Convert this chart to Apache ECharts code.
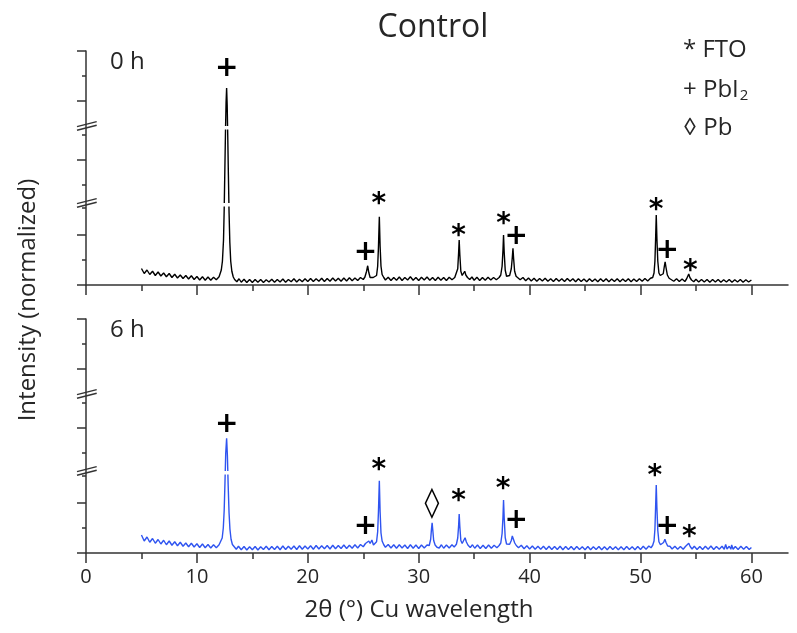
<!DOCTYPE html>
<html><head><meta charset="utf-8">
<script src="https://cdn.jsdelivr.net/npm/echarts@6/dist/echarts.min.js"></script>
<style>html,body{margin:0;padding:0;background:#fff}#c{width:797px;height:633px}</style>
</head><body><div id="c"></div>
<script>
// ---- data (intensity in normalized display units; the y axis is broken at two levels) ----
const xTicksMajor = [0, 10, 20, 30, 40, 50, 60];
const xTicksMinor = [5, 15, 25, 35, 45, 55];
const yTicksMajor = [0, 2, 5, 7.36, 9.36];
const yTicksMinor = [1, 3.08, 4, 6, 8.36];
const breakLevels = [[3.14, 3.28, 3.28], [6.22, 6.36, 6.36]];
const panelNames = ['0 h', '6 h'];
const titleText = 'Control';
const xAxisTitle = '2θ (°) Cu wavelength';
const yAxisTitle = 'Intensity (normalized)';

const scan0h = [
[5.00,0.66],[5.25,0.46],[5.50,0.60],[5.75,0.42],[6.00,0.55],[6.25,0.38],[6.50,0.52],[6.75,0.36],[7.00,0.48],[7.25,0.33],
[7.50,0.46],[7.75,0.30],[8.00,0.43],[8.25,0.28],[8.50,0.40],[8.75,0.26],[9.00,0.38],[9.25,0.24],[9.50,0.37],[9.75,0.22],
[10.00,0.34],[10.25,0.20],[10.50,0.33],[10.75,0.19],[11.00,0.32],[11.25,0.19],[11.50,0.31],[11.75,0.21],[12.00,0.33],
[12.10,0.38],[12.20,0.60],[12.30,0.95],[12.40,1.80],[12.46,3.00],[12.52,4.60],[12.58,6.20],[12.63,7.30],[12.68,7.88],
[12.73,7.20],[12.78,6.00],[12.84,4.40],[12.90,2.90],[12.97,1.70],[13.05,0.95],[13.15,0.55],[13.28,0.32],[13.40,0.22],
[13.60,0.13],[13.80,0.25],[14.00,0.11],[14.25,0.23],[14.50,0.10],[14.75,0.22],[15.00,0.10],[15.25,0.22],[15.50,0.11],
[15.75,0.22],[16.00,0.10],[16.25,0.21],[16.50,0.12],[16.75,0.23],[17.00,0.11],[17.25,0.22],[17.50,0.12],[17.75,0.24],
[18.00,0.11],[18.25,0.22],[18.50,0.13],[18.75,0.25],[19.00,0.12],[19.25,0.23],[19.50,0.13],[19.75,0.25],[20.00,0.14],
[20.25,0.26],[20.50,0.14],[20.75,0.25],[21.00,0.15],[21.25,0.27],[21.50,0.14],[21.75,0.26],[22.00,0.15],[22.25,0.28],
[22.50,0.16],[22.75,0.27],[23.00,0.15],[23.25,0.28],[23.50,0.16],[23.75,0.29],[24.00,0.17],[24.25,0.28],[24.50,0.18],
[24.75,0.30],[25.00,0.22],[25.15,0.32],[25.30,0.55],[25.40,0.77],[25.50,0.50],[25.62,0.30],[25.75,0.22],[25.90,0.30],
[26.05,0.24],[26.20,0.38],[26.30,0.75],[26.37,1.50],[26.45,2.73],[26.52,1.55],[26.60,0.75],[26.70,0.42],[26.85,0.30],
[27.00,0.20],[27.25,0.31],[27.50,0.18],[27.75,0.30],[28.00,0.19],[28.25,0.32],[28.50,0.18],[28.75,0.30],[29.00,0.20],
[29.25,0.33],[29.50,0.19],[29.75,0.30],[30.00,0.18],[30.25,0.31],[30.50,0.20],[30.75,0.32],[31.00,0.19],[31.25,0.30],
[31.50,0.18],[31.75,0.31],[32.00,0.19],[32.25,0.30],[32.50,0.18],[32.75,0.31],[33.00,0.21],[33.25,0.30],[33.40,0.34],
[33.52,0.65],[33.60,1.30],[33.65,1.80],[33.71,1.20],[33.80,0.55],[33.92,0.38],[34.05,0.42],[34.15,0.55],[34.25,0.40],
[34.40,0.30],[34.60,0.22],[34.80,0.32],[35.00,0.19],[35.25,0.31],[35.50,0.18],[35.75,0.30],[36.00,0.19],[36.25,0.31],
[36.50,0.20],[36.75,0.30],[37.00,0.21],[37.25,0.30],[37.40,0.40],[37.52,0.75],[37.60,1.40],[37.65,2.00],[37.71,1.30],
[37.80,0.60],[37.92,0.35],[38.05,0.30],[38.20,0.38],[38.35,0.65],[38.44,1.10],[38.50,1.47],[38.56,1.05],[38.65,0.55],
[38.78,0.35],[38.95,0.28],[39.15,0.21],[39.40,0.30],[39.65,0.17],[39.90,0.28],[40.15,0.16],[40.40,0.27],[40.65,0.15],
[40.90,0.26],[41.15,0.16],[41.40,0.27],[41.65,0.15],[41.90,0.25],[42.15,0.14],[42.40,0.26],[42.65,0.15],[42.90,0.25],
[43.15,0.14],[43.40,0.26],[43.65,0.15],[43.90,0.25],[44.15,0.13],[44.40,0.25],[44.65,0.14],[44.90,0.24],[45.15,0.13],
[45.40,0.25],[45.65,0.14],[45.90,0.24],[46.15,0.13],[46.40,0.25],[46.65,0.14],[46.90,0.25],[47.15,0.13],[47.40,0.24],
[47.65,0.14],[47.90,0.25],[48.15,0.13],[48.40,0.24],[48.65,0.14],[48.90,0.25],[49.15,0.13],[49.40,0.24],[49.65,0.14],
[49.90,0.25],[50.15,0.15],[50.40,0.26],[50.65,0.16],[50.90,0.27],[51.10,0.30],[51.22,0.48],[51.30,0.95],[51.36,1.80],
[51.42,2.80],[51.48,1.85],[51.56,0.95],[51.66,0.48],[51.78,0.38],[51.92,0.33],[52.05,0.45],[52.15,0.75],[52.22,0.93],
[52.30,0.70],[52.42,0.40],[52.58,0.27],[52.75,0.19],[53.00,0.15],[53.25,0.25],[53.50,0.14],[53.75,0.24],[54.00,0.14],
[54.15,0.24],[54.28,0.32],[54.35,0.44],[54.45,0.30],[54.60,0.20],[54.80,0.13],[55.00,0.23],[55.25,0.12],[55.50,0.22],
[55.75,0.12],[56.00,0.22],[56.25,0.11],[56.50,0.22],[56.75,0.12],[57.00,0.22],[57.25,0.11],[57.50,0.21],[57.75,0.12],
[58.00,0.22],[58.25,0.11],[58.50,0.21],[58.75,0.12],[59.00,0.22],[59.25,0.11],[59.50,0.21],[59.75,0.12],[60.00,0.20]
];

const scan6h = [
[5.00,0.72],[5.25,0.48],[5.50,0.64],[5.75,0.43],[6.00,0.58],[6.25,0.39],[6.50,0.54],[6.75,0.36],[7.00,0.51],[7.25,0.33],
[7.50,0.48],[7.75,0.31],[8.00,0.45],[8.25,0.29],[8.50,0.43],[8.75,0.27],[9.00,0.40],[9.25,0.25],[9.50,0.39],[9.75,0.24],
[10.00,0.37],[10.25,0.22],[10.50,0.36],[10.75,0.21],[11.00,0.34],[11.25,0.20],[11.50,0.33],[11.75,0.21],[12.00,0.33],
[12.15,0.38],[12.28,0.60],[12.38,1.00],[12.46,1.70],[12.53,2.80],[12.60,4.00],[12.68,4.59],[12.75,3.90],[12.82,2.70],
[12.90,1.60],[12.98,0.95],[13.08,0.55],[13.20,0.34],[13.35,0.26],[13.55,0.15],[13.75,0.27],[14.00,0.13],[14.25,0.26],
[14.50,0.12],[14.75,0.25],[15.00,0.13],[15.25,0.26],[15.50,0.12],[15.75,0.25],[16.00,0.14],[16.25,0.27],[16.50,0.13],
[16.75,0.26],[17.00,0.14],[17.25,0.27],[17.50,0.13],[17.75,0.28],[18.00,0.14],[18.25,0.27],[18.50,0.15],[18.75,0.28],
[19.00,0.14],[19.25,0.29],[19.50,0.15],[19.75,0.28],[20.00,0.16],[20.25,0.29],[20.50,0.15],[20.75,0.30],[21.00,0.16],
[21.25,0.29],[21.50,0.17],[21.75,0.30],[22.00,0.16],[22.25,0.31],[22.50,0.17],[22.75,0.30],[23.00,0.18],[23.25,0.32],
[23.50,0.18],[23.75,0.31],[24.00,0.19],[24.25,0.33],[24.50,0.20],[24.75,0.34],[25.00,0.25],[25.20,0.38],[25.35,0.30],
[25.50,0.48],[25.62,0.38],[25.78,0.52],[25.92,0.32],[26.08,0.38],[26.20,0.45],[26.30,0.85],[26.37,1.65],[26.45,2.89],
[26.52,1.65],[26.60,0.80],[26.70,0.48],[26.85,0.33],[27.00,0.23],[27.25,0.34],[27.50,0.20],[27.75,0.33],[28.00,0.19],
[28.25,0.33],[28.50,0.20],[28.75,0.32],[29.00,0.18],[29.25,0.33],[29.50,0.19],[29.75,0.32],[30.00,0.18],[30.25,0.32],
[30.50,0.20],[30.75,0.32],[30.95,0.30],[31.08,0.55],[31.15,0.95],[31.21,1.21],[31.27,0.92],[31.35,0.50],[31.48,0.32],
[31.65,0.23],[31.85,0.20],[32.05,0.33],[32.25,0.19],[32.50,0.32],[32.75,0.20],[33.00,0.33],[33.20,0.24],[33.40,0.35],
[33.52,0.60],[33.60,1.10],[33.65,1.56],[33.71,1.05],[33.80,0.50],[33.92,0.38],[34.05,0.44],[34.18,0.61],[34.30,0.44],
[34.45,0.31],[34.65,0.22],[34.85,0.33],[35.05,0.19],[35.30,0.32],[35.55,0.18],[35.80,0.31],[36.05,0.18],[36.30,0.32],
[36.55,0.19],[36.80,0.31],[37.05,0.21],[37.25,0.30],[37.40,0.40],[37.52,0.78],[37.60,1.45],[37.65,2.12],[37.71,1.40],
[37.80,0.62],[37.92,0.36],[38.05,0.30],[38.20,0.35],[38.35,0.50],[38.44,0.68],[38.50,0.76],[38.57,0.60],[38.66,0.40],
[38.80,0.30],[39.00,0.21],[39.25,0.31],[39.50,0.17],[39.75,0.29],[40.00,0.16],[40.25,0.28],[40.50,0.15],[40.75,0.27],
[41.00,0.15],[41.25,0.27],[41.50,0.14],[41.75,0.27],[42.00,0.14],[42.25,0.26],[42.50,0.14],[42.75,0.27],[43.00,0.13],
[43.25,0.26],[43.50,0.14],[43.75,0.26],[44.00,0.13],[44.25,0.26],[44.50,0.14],[44.75,0.25],[45.00,0.13],[45.25,0.26],
[45.50,0.13],[45.75,0.25],[46.00,0.14],[46.25,0.26],[46.50,0.13],[46.75,0.25],[47.00,0.13],[47.25,0.26],[47.50,0.14],
[47.75,0.25],[48.00,0.13],[48.25,0.25],[48.50,0.13],[48.75,0.26],[49.00,0.14],[49.25,0.25],[49.50,0.13],[49.75,0.26],
[50.00,0.14],[50.25,0.27],[50.50,0.15],[50.75,0.28],[50.95,0.21],[51.10,0.31],[51.22,0.48],[51.30,0.95],[51.36,1.80],
[51.42,2.72],[51.48,1.80],[51.56,0.90],[51.66,0.45],[51.80,0.33],[51.95,0.30],[52.08,0.42],[52.20,0.55],[52.30,0.42],
[52.45,0.28],[52.65,0.27],[52.85,0.16],[53.10,0.27],[53.35,0.15],[53.60,0.26],[53.85,0.15],[54.05,0.26],[54.20,0.24],
[54.35,0.39],[54.48,0.26],[54.65,0.16],[54.85,0.27],[55.10,0.14],[55.35,0.26],[55.60,0.14],[55.85,0.27],[56.10,0.15],
[56.35,0.28],[56.60,0.14],[56.85,0.26],[57.10,0.15],[57.35,0.27],[57.55,0.15],[57.68,0.34],[57.80,0.16],[58.00,0.27],
[58.15,0.15],[58.22,0.32],[58.35,0.15],[58.55,0.26],[58.80,0.14],[59.05,0.27],[59.30,0.15],[59.55,0.26],[59.80,0.14],
[60.00,0.22]
];

// phase markers: [2θ, height (display units), glyph]
const marks0h = [[12.7,8.68,'+'],[25.2,1.33,'+'],[26.4,3.48,'*'],[33.6,2.2,'*'],[37.65,2.69,'*'],[38.8,1.97,'+'],[51.4,3.27,'*'],[52.4,1.4,'+'],[54.5,0.8,'*']];
const marks6h = [[12.7,5.19,'+'],[25.2,1.08,'+'],[26.4,3.59,'*'],[31.2,1.99,'◊'],[33.6,2.32,'*'],[37.6,2.83,'*'],[38.8,1.35,'+'],[51.3,3.35,'*'],[52.4,1.08,'+'],[54.4,0.89,'*']];
const legendSymbols = ['*', '+', '◊'];
const legendNames = ['FTO', 'PbI', 'Pb'];
const legendSubs = ['', '2', ''];

// ---- chart ----
const TXT = '#262626';
const AX = '#333';
const FONT = '"Open Sans", "DejaVu Sans", sans-serif';
const X_MAX = 63.3, Y_MAX = 9.36;
const panelTops = [51, 319];
const lineColors = ['#000000', '#2f54f0'];

const grid = panelTops.map(t => ({ left: 86, top: t, width: 702, height: 234 }));
const xAxis = [], yAxis = [];
panelTops.forEach((t, i) => {
  xAxis.push({ gridIndex: i, type: 'value', min: 0, max: X_MAX, position: 'bottom',
    axisLine: { show: true, onZero: false, lineStyle: { color: AX, width: 1.5 } },
    axisTick: { show: true, length: 10, customValues: xTicksMajor, lineStyle: { color: AX, width: 1.5 } },
    axisLabel: { show: i === 1, customValues: xTicksMajor, color: TXT, fontSize: 20, fontFamily: FONT, margin: 14 },
    splitLine: { show: false } });
  xAxis.push({ gridIndex: i, type: 'value', min: 0, max: X_MAX, position: 'bottom',
    axisLine: { show: false },
    axisTick: { show: true, length: 6, customValues: xTicksMinor, lineStyle: { color: AX, width: 1.5 } },
    axisLabel: { show: false }, splitLine: { show: false } });
  yAxis.push({ gridIndex: i, type: 'value', min: 0, max: Y_MAX, position: 'left',
    axisLine: { show: true, onZero: false, lineStyle: { color: AX, width: 1.5 } },
    axisTick: { show: true, length: 9, customValues: yTicksMajor, lineStyle: { color: AX, width: 1.5 } },
    axisLabel: { show: false }, splitLine: { show: false } });
  yAxis.push({ gridIndex: i, type: 'value', min: 0, max: Y_MAX, position: 'left',
    axisLine: { show: false },
    axisTick: { show: true, length: 4, customValues: yTicksMinor, lineStyle: { color: AX, width: 1.5 } },
    axisLabel: { show: false }, splitLine: { show: false } });
});

function breakRender(params, api) {
  const lo = api.value(0), hi = api.value(1), c = api.value(2);
  const a = api.coord([0.15, hi]);
  const b = api.coord([X_MAX, lo]);
  const o = api.coord([0, c]);
  const ls = { stroke: AX, lineWidth: 1.4 };
  return { type: 'group', children: [
    { type: 'rect', shape: { x: a[0], y: a[1], width: b[0] - a[0], height: b[1] - a[1] }, style: { fill: '#fff' } },
    { type: 'line', shape: { x1: o[0] - 9, y1: o[1] + 0.6, x2: o[0] + 10.7, y2: o[1] - 4.4 }, style: ls },
    { type: 'line', shape: { x1: o[0] - 9, y1: o[1] + 4.3, x2: o[0] + 10.7, y2: o[1] - 0.7 }, style: ls }
  ]};
}
function markRender(list) {
  return function (params, api) {
    const g = list[params.dataIndex][2];
    const p = api.coord([api.value(0), api.value(1)]);
    const dy = g === '*' ? 7 : 1;
    const fs = g === '◊' ? 30 : 28;
    return { type: 'text', x: p[0], y: p[1] + dy, style: {
      text: g, font: 'bold ' + fs + 'px "DejaVu Sans"', fill: '#000',
      align: 'center', verticalAlign: 'middle', textAlign: 'center', textVerticalAlign: 'middle' } };
  };
}

const scans = [scan0h, scan6h];
const marks = [marks0h, marks6h];
const series = [];
scans.forEach((d, i) => {
  series.push({ type: 'line', xAxisIndex: 2 * i, yAxisIndex: 2 * i, data: d, showSymbol: false,
    lineStyle: { color: lineColors[i], width: 1.4 }, z: 2, animation: false });
  series.push({ type: 'custom', xAxisIndex: 2 * i, yAxisIndex: 2 * i, data: breakLevels,
    renderItem: breakRender, z: 5, clip: false, silent: true, animation: false });
  series.push({ type: 'custom', xAxisIndex: 2 * i, yAxisIndex: 2 * i,
    data: marks[i].map(m => [m[0], m[1]]), renderItem: markRender(marks[i]), z: 6, clip: false, silent: true, animation: false });
});

const centered = { align: 'center', verticalAlign: 'middle', textAlign: 'center', textVerticalAlign: 'middle' };
const graphic = [
  { type: 'text', z: 100, x: 433, y: 28, style: Object.assign({ text: titleText, font: '32px ' + FONT, fill: TXT }, centered) },
  { type: 'text', z: 100, x: 419, y: 610, style: Object.assign({ text: xAxisTitle, font: '24px ' + FONT, fill: TXT }, centered) },
  { type: 'text', z: 100, x: 28, y: 300, rotation: Math.PI / 2, style: Object.assign({ text: yAxisTitle, font: '24px ' + FONT, fill: TXT }, centered) }
];
panelNames.forEach((n, i) => {
  graphic.push({ type: 'text', z: 100, x: 110, y: panelTops[i] + 11, style: { text: n, font: '24px ' + FONT, fill: TXT, align: 'left', verticalAlign: 'middle', textAlign: 'left', textVerticalAlign: 'middle' } });
});
const legendY = [50, 90, 128];
legendSymbols.forEach((s, i) => {
  graphic.push({ type: 'text', z: 100, x: 683, y: legendY[i], style: {
    text: '{a|' + s + ' ' + legendNames[i] + '}' + (legendSubs[i] ? '{s|' + legendSubs[i] + '}' : ''),
    rich: { a: { fontSize: 24, fontFamily: FONT, fill: TXT, color: TXT }, s: { fontSize: 15, fontFamily: FONT, fill: TXT, color: TXT, padding: [12, 0, 0, 1] } },
    fill: TXT, align: 'left', verticalAlign: 'middle', textAlign: 'left', textVerticalAlign: 'middle' } });
});

const chart = echarts.init(document.getElementById('c'), null, { renderer: 'canvas' });
chart.setOption({ animation: false, backgroundColor: '#fff', grid, xAxis, yAxis, series, graphic });
</script>
</body></html>
